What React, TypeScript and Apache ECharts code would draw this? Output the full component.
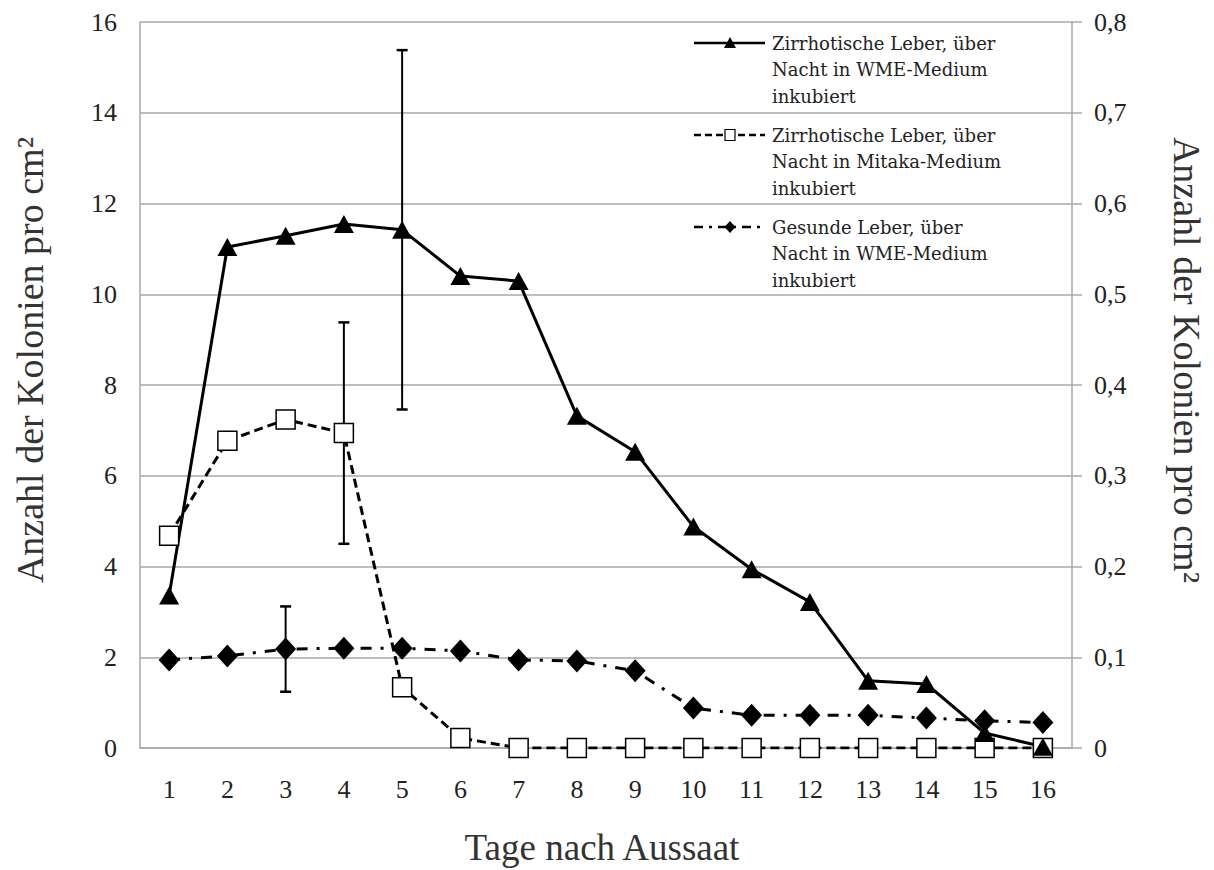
import React, { useEffect, useRef } from "react";
import * as echarts from "echarts";

const days = ["1", "2", "3", "4", "5", "6", "7", "8", "9", "10", "11", "12", "13", "14", "15", "16"];

// Zirrhotische Leber, WME-Medium (left axis)
const wmeCirrhotic = [3.36, 11.04, 11.29, 11.55, 11.42, 10.4, 10.29, 7.32, 6.53, 4.88, 3.94, 3.22, 1.48, 1.41, 0.33, 0.03];
const wmeCirrhoticErr = [null, null, null, null, 3.96, null, null, null, null, null, null, null, null, null, null, null];

// Zirrhotische Leber, Mitaka-Medium (left axis)
const mitakaCirrhotic = [4.68, 6.77, 7.24, 6.94, 1.34, 0.22, 0, 0, 0, 0, 0, 0, 0, 0, 0, 0];
const mitakaCirrhoticErr = [null, null, null, 2.44, null, null, null, null, null, null, null, null, null, null, null, null];

// Gesunde Leber, WME-Medium (right axis)
const wmeHealthy = [0.097, 0.1015, 0.109, 0.11, 0.11, 0.107, 0.097, 0.096, 0.085, 0.044, 0.036, 0.036, 0.036, 0.033, 0.030, 0.028];
const wmeHealthyErr = [null, null, 0.047, null, null, null, null, null, null, null, null, null, null, null, null, null];

const legendLabels = [
  "Zirrhotische Leber, über\nNacht in WME-Medium\ninkubiert",
  "Zirrhotische Leber, über\nNacht in Mitaka-Medium\ninkubiert",
  "Gesunde Leber, über\nNacht in WME-Medium\ninkubiert",
];

const leftTitle = "Anzahl der Kolonien pro cm²";
const rightTitle = "Anzahl der Kolonien pro cm²";
const xTitle = "Tage nach Aussaat";

const SERIF = '"Liberation Serif", "Times New Roman", serif';
const LEGEND_FONT = "DejaVu Serif";
const GRID = "#a8a8a8";

function errorSeries(mean: number[], err: (number | null)[], yAxisIndex: number) {
  const data: number[][] = [];
  mean.forEach((m, i) => {
    const e = err[i];
    if (e != null) data.push([i, m - e, m + e]);
  });
  return {
    type: "custom",
    yAxisIndex,
    z: 1,
    silent: true,
    clip: false,
    data,
    encode: { x: 0, y: [1, 2] },
    renderItem: (_params: any, api: any) => {
      const lo = api.coord([api.value(0), api.value(1)]);
      const hi = api.coord([api.value(0), api.value(2)]);
      const w = 5.5;
      const st = { stroke: "#000", lineWidth: 2 };
      return {
        type: "group",
        children: [
          { type: "line", shape: { x1: lo[0], y1: lo[1], x2: hi[0], y2: hi[1] }, style: st },
          { type: "line", shape: { x1: lo[0] - w, y1: lo[1], x2: lo[0] + w, y2: lo[1] }, style: { ...st, lineWidth: 2.5 } },
          { type: "line", shape: { x1: hi[0] - w, y1: hi[1], x2: hi[0] + w, y2: hi[1] }, style: { ...st, lineWidth: 2.5 } },
        ],
      };
    },
  };
}

function legendGraphic() {
  const x1 = 694;
  const x2 = 765;
  const mx = 730;
  const ys = [43, 135, 227];
  const els: any[] = [];
  const dashes: any[] = [null, [7, 4], [9, 6, 3, 6]];
  ys.forEach((y, k) => {
    els.push({
      type: "line",
      shape: { x1, y1: y, x2, y2: y },
      style: { stroke: "#000", lineWidth: 2.5, lineDash: dashes[k] || undefined },
    });
    if (k === 0) {
      els.push({ type: "polygon", shape: { points: [[mx - 6, y + 5], [mx + 6, y + 5], [mx, y - 6]] }, style: { fill: "#000" } });
    } else if (k === 1) {
      els.push({ type: "rect", shape: { x: mx - 5, y: y - 5.5, width: 10, height: 11 }, style: { fill: "#fff", stroke: "#000", lineWidth: 1.2 } });
    } else {
      els.push({ type: "polygon", shape: { points: [[mx, y - 6], [mx + 5.5, y], [mx, y + 6], [mx - 5.5, y]] }, style: { fill: "#000" } });
    }
    els.push({
      type: "text",
      x: 772,
      y: y - 13,
      style: {
        text: legendLabels[k],
        fontSize: 18,
        fontFamily: LEGEND_FONT,
        fill: "#222",
        lineHeight: 26.5,
        align: "left",
        verticalAlign: "top",
      },
    });
  });
  return els;
}

export default function App() {
  const ref = useRef<HTMLDivElement>(null);
  useEffect(() => {
    if (!ref.current) return;
    const chart = echarts.init(ref.current, null, { renderer: "svg" });
    const labelStyle = { fontFamily: SERIF, fontSize: 26, color: "#222" };
    chart.setOption({
      animation: false,
      backgroundColor: "#fff",
      grid: { left: 140, right: 142, top: 22, bottom: 122, containLabel: false },
      xAxis: {
        type: "category",
        data: days,
        boundaryGap: true,
        axisLine: { lineStyle: { color: GRID, width: 1.5 } },
        axisTick: { show: false },
        axisLabel: { ...labelStyle, margin: 28 },
        splitLine: { show: false },
      },
      yAxis: [
        {
          type: "value",
          min: 0,
          max: 16,
          interval: 2,
          position: "left",
          axisLine: { show: true, lineStyle: { color: GRID, width: 1.5 } },
          axisTick: { show: false },
          axisLabel: { ...labelStyle, margin: 23 },
          splitLine: { show: true, lineStyle: { color: GRID, width: 1.5 } },
        },
        {
          type: "value",
          min: 0,
          max: 0.8,
          interval: 0.1,
          position: "right",
          axisLine: { show: true, lineStyle: { color: GRID, width: 1.5 } },
          axisTick: { show: true, length: 10, inside: false, lineStyle: { color: GRID, width: 1.5 } },
          axisLabel: {
            ...labelStyle,
            margin: 22,
            formatter: (v: number) => (v === 0 ? "0" : v.toFixed(1).replace(".", ",")),
          },
          splitLine: { show: false },
        },
      ],
      series: [
        errorSeries(wmeHealthy, wmeHealthyErr, 1),
        errorSeries(mitakaCirrhotic, mitakaCirrhoticErr, 0),
        errorSeries(wmeCirrhotic, wmeCirrhoticErr, 0),
        {
          name: legendLabels[2],
          type: "line",
          yAxisIndex: 1,
          data: wmeHealthy,
          symbol: "diamond",
          symbolSize: [21, 23],
          itemStyle: { color: "#000" },
          lineStyle: { color: "#000", width: 3, type: [11, 9, 3, 9] },
        },
        {
          name: legendLabels[1],
          type: "line",
          yAxisIndex: 0,
          data: mitakaCirrhotic,
          symbol: "rect",
          symbolSize: 19,
          itemStyle: { color: "#fff", borderColor: "#000", borderWidth: 1.5 },
          lineStyle: { color: "#000", width: 3, type: [9, 5] },
        },
        {
          name: legendLabels[0],
          type: "line",
          yAxisIndex: 0,
          data: wmeCirrhotic,
          symbol: "triangle",
          symbolSize: [20, 18],
          itemStyle: { color: "#000" },
          lineStyle: { color: "#000", width: 3 },
        },
      ],
      graphic: [
        ...legendGraphic(),
        {
          type: "text",
          x: 30,
          y: 360,
          rotation: Math.PI / 2,
          style: { text: leftTitle, fontSize: 38, fontFamily: SERIF, fill: "#333", align: "center", verticalAlign: "middle" },
        },
        {
          type: "text",
          x: 1187,
          y: 360,
          rotation: -Math.PI / 2,
          style: { text: rightTitle, fontSize: 38, fontFamily: SERIF, fill: "#333", align: "center", verticalAlign: "middle" },
        },
        {
          type: "text",
          x: 602,
          y: 847,
          style: { text: xTitle, fontSize: 37, fontFamily: SERIF, fill: "#333", align: "center", verticalAlign: "middle" },
        },
      ],
    });
    return () => chart.dispose();
  }, []);
  return (
    <div
      ref={ref}
      style={{ position: "absolute", left: 0, top: 0, width: 1214, height: 870, background: "#fff" }}
    />
  );
}
